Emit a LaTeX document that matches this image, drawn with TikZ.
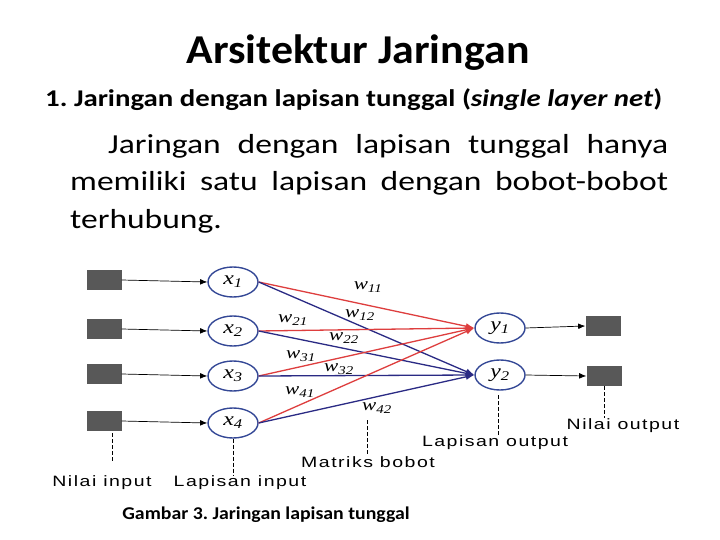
\documentclass[tikz,border=0pt]{standalone}
\usepackage{fontspec}
\setmainfont{Carlito}
\newfontfamily\titlefont[FakeStretch=1.07]{Carlito}
\newfontfamily\headfont[FakeStretch=1.2]{Carlito}
\newfontfamily\bodyfont[FakeStretch=1.22]{Carlito}
\newfontfamily\capfont[FakeStretch=1.1]{Carlito}
\newfontfamily\tagfont[FakeStretch=1.3,LetterSpace=10]{Liberation Sans}
\newfontfamily\symfont[FakeStretch=1.25]{Liberation Serif}
\usetikzlibrary{arrows.meta,positioning,shapes.geometric}
\definecolor{netred}{RGB}{222,62,62}
\definecolor{netblue}{RGB}{42,42,132}
\definecolor{ringblue}{RGB}{52,72,150}
\definecolor{boxgray}{RGB}{88,88,88}
\newcommand{\sym}[2]{{\symfont\itshape #1\textsubscript{#2}}}
\tikzset{
  unit/.style  = {draw=ringblue, line width=1.4pt, ellipse, minimum width=50pt,
                  minimum height=30pt, inner sep=0pt, font=\fontsize{19}{19}\selectfont},
  valbox/.style = {fill=boxgray, minimum width=35pt, minimum height=20pt, inner sep=0pt},
  feed/.style  = {-{Latex[length=2.5mm,width=2mm]}, line width=0.7pt},
  wred/.style  = {-{Latex[length=3mm,width=2.2mm]}, netred, line width=1.3pt},
  wblue/.style = {-{Latex[length=3mm,width=2.2mm]}, netblue, line width=1.3pt},
  wlab/.style  = {font=\fontsize{17}{17}\selectfont, inner sep=0pt},
  tag/.style   = {font=\tagfont\fontsize{15}{15}\selectfont, inner sep=1pt},
  guide/.style = {line width=0.8pt, dash pattern=on 4pt off 2pt},
}

\begin{document}
\begin{tikzpicture}[x=1pt,y=-1pt]
\useasboundingbox[fill=white] (0,0) rectangle (720,540);
% ---------- heading and text ----------
\node[font=\titlefont\bfseries\fontsize{41}{41}\selectfont] (title) at (358,53) {Arsitektur Jaringan};
\node[font=\headfont\bfseries\fontsize{24}{24}\selectfont, anchor=west, inner sep=0pt] (sub) at (45,100)
  {1.\ Jaringan dengan lapisan tunggal (\textit{single layer net})};
\node[anchor=north west, inner sep=0pt, text width=598pt, align=justify,
  font=\bodyfont\fontsize{27.5}{37.5}\selectfont] (para) at (70,134)
  {\hspace*{38pt}Jaringan dengan lapisan tunggal hanya\linebreak
   memiliki satu lapisan dengan bobot-bobot\linebreak terhubung.};
% ---------- input side ----------
\foreach \i/\y in {1/280,2/329,3/374,4/421}{
  \node[valbox] (in\i) at (104,\y) {};
  \node[unit] (x\i) at (233,\y+2) {\sym{x}{\i}};
  \draw[feed] (in\i.east) -- (x\i.west);
}
% ---------- output side ----------
\node[unit] (y1) at (500,328) {\sym{y}{1}};
\node[unit] (y2) at (500,375) {\sym{y}{2}};
\node[valbox] (out1) at (603,326) {};
\node[valbox] (out2) at (604,376) {};
\draw[feed] (y1.east) -- (out1.west);
\draw[feed] (y2.east) -- (out2.west);
% ---------- weights ----------
\foreach \i in {1,...,4}{
  \draw[wred]  (x\i.east) -- (y1.west);
  \draw[wblue] (x\i.east) -- (y2.west);
}
\node[wlab] (w11) at (368,287) {\sym{w}{11}};
\node[wlab] (w12) at (360,315) {\sym{w}{12}};
\node[wlab] (w21) at (293,320) {\sym{w}{21}};
\node[wlab] (w22) at (344,338) {\sym{w}{22}};
\node[wlab] (w31) at (301,356) {\sym{w}{31}};
\node[wlab] (w32) at (339,369) {\sym{w}{32}};
\node[wlab] (w41) at (300,392) {\sym{w}{41}};
\node[wlab] (w42) at (377,408) {\sym{w}{42}};
% ---------- captions ----------
\node[tag] (nin)  at (102,483) {Nilai input};
\node[tag] (lin)  at (240,483) {Lapisan input};
\node[tag] (mat)  at (368,462) {Matriks bobot};
\node[tag] (lout) at (495,443) {Lapisan output};
\node[tag] (nout) at (623,426) {Nilai output};
\coordinate (nintop) at (112,433);
\coordinate (mattop) at (367,420);
\coordinate (louttop) at (498,395);
\draw[guide] (nintop) -- (112,462);
\draw[guide] (x4.south) -- (x4.south |- lin.north);
\draw[guide] (mattop) -- (mattop |- mat.north);
\draw[guide] (louttop) -- (louttop |- lout.north);
\draw[guide] (out2.south) -- (out2.south |- nout.north);
\node[font=\capfont\bfseries\fontsize{18}{18}\selectfont] (cap) at (266,515)
  {Gambar 3.\ Jaringan lapisan tunggal};
\end{tikzpicture}
\end{document}
